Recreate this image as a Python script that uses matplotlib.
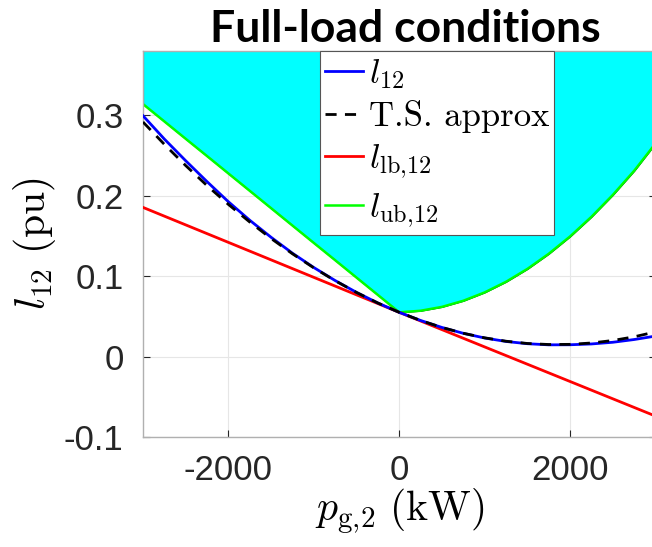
import numpy as np
import matplotlib
matplotlib.use("Agg")
import matplotlib.pyplot as plt

plt.rcParams['mathtext.fontset'] = 'cm'
plt.rcParams['axes.unicode_minus'] = False

# p_g,2 in kW
pg = [-3000, -2750, -2500, -2250, -2000, -1750, -1500, -1250, -1000, -750, -500, -250,
      0, 250, 500, 750, 1000, 1250, 1500, 1750, 2000, 2250, 2500, 2750, 3000]

# l12 (pu)
l12 = [0.2995, 0.2705, 0.2435, 0.2175, 0.1925, 0.1695, 0.1483, 0.1285, 0.1107, 0.0945,
       0.0798, 0.0666, 0.055, 0.0449, 0.0362, 0.0289, 0.0231, 0.0188, 0.0160, 0.0146,
       0.0147, 0.0157, 0.0178, 0.0212, 0.0255]

# Taylor series approx
ts = [0.2917, 0.2639, 0.2375, 0.2126, 0.1892, 0.1673, 0.1468, 0.1278, 0.1103, 0.0943,
      0.0797, 0.0666, 0.055, 0.0449, 0.0362, 0.0290, 0.0233, 0.0191, 0.0163, 0.0150,
      0.0152, 0.0169, 0.0200, 0.0246, 0.0307]

# lower bound (straight line)
lb_x = [-3000, 0, 3000]
lb = [0.1855, 0.055, -0.074]

# upper bound
ub = [0.314, 0.2924, 0.2708, 0.2493, 0.2277, 0.2061, 0.1845, 0.1629, 0.1413, 0.1198,
      0.0982, 0.0766, 0.055, 0.057, 0.0618, 0.0694, 0.0798, 0.093, 0.109, 0.1278,
      0.1494, 0.1738, 0.201, 0.231, 0.265]

yticks = [-0.1, 0, 0.1, 0.2, 0.3]
ytick_labels = ['-0.1', '0', '0.1', '0.2', '0.3']
xticks = [-2000, 0, 2000]
xtick_labels = ['-2000', '0', '2000']

fig = plt.figure(figsize=(6.52, 5.47), dpi=100)
ax = fig.add_axes([0.2193, 0.2011, 0.7861, 0.7057])

ax.fill_between(pg, ub, 0.5, color='#00ffff', edgecolor='black', linewidth=0.8, zorder=1)
ax.plot(pg, l12, color='#0000ff', lw=2.0, label=r'$l_{12}$', zorder=4)
ax.plot(pg, ts, color='black', lw=2.0, ls=(0, (4, 3)), label='T.S. approx', zorder=5)
ax.plot(lb_x, lb, color='#ff0000', lw=2.0, label=r'$l_{\mathrm{lb}{,}12}$', zorder=3)
ax.plot(pg, ub, color='#00ff00', lw=1.8, label=r'$l_{\mathrm{ub}{,}12}$', zorder=2)

ax.set_xlim(-3000, 3000)
ax.set_ylim(-0.1, 0.38)
ax.set_xticks(xticks)
ax.set_xticklabels(xtick_labels)
ax.set_yticks(yticks)
ax.set_yticklabels(ytick_labels)
for lab in ax.get_xticklabels() + ax.get_yticklabels():
    lab.set_fontfamily('Liberation Sans')
    lab.set_fontsize(25)
    lab.set_color('#262626')
ax.tick_params(direction='in', length=5, width=0.8, color='#262626', top=True, right=True)
ax.tick_params(axis='x', pad=12)
ax.tick_params(axis='y', pad=14)
for s in ax.spines.values():
    s.set_color('#b0b0b0')
    s.set_linewidth(1.0)
ax.grid(True, color='#e6e6e6', lw=0.8, zorder=0)
ax.set_axisbelow(True)

ax.set_xlabel(r'$p_{\mathrm{g}{,}2}\ \mathrm{(kW)}$', fontsize=30, labelpad=0)
ax.set_ylabel(r'$l_{12}\ \mathrm{(pu)}$', fontsize=30, labelpad=4)

leg = ax.legend(loc='upper left', bbox_to_anchor=(0.3453, 1.0), fontsize=25,
                handlelength=1.1, handletextpad=0.15, borderpad=0.15, labelspacing=0.25,
                fancybox=False, framealpha=1, borderaxespad=0)
leg.get_frame().set_edgecolor('#555555')
leg.get_frame().set_linewidth(0.8)
leg.get_texts()[1].set_fontfamily('cmr10')

fig.text(0.621, 0.947, 'Full-load conditions', fontsize=32, fontweight='bold',
         family='Lato', ha='center', va='center')

fig.savefig('out.png', dpi=100)
